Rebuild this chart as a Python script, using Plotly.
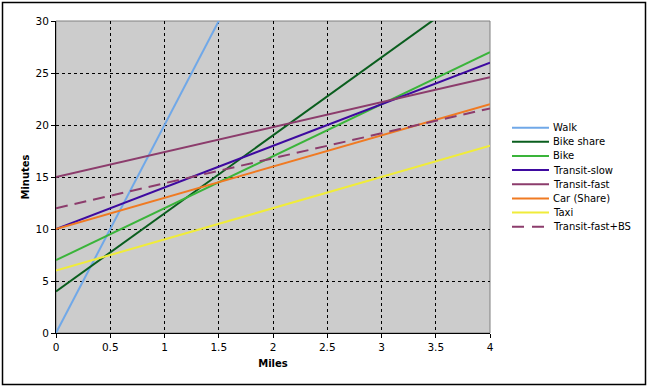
import plotly.graph_objects as go

miles = [0, 1, 2, 3, 4]
walk = [0, 20, 40, 60, 80]
bike_share = [4, 11.5, 19, 26.5, 34]
bike = [7, 12, 17, 22, 27]
transit_slow = [10, 14, 18, 22, 26]
transit_fast = [15, 17.4, 19.8, 22.2, 24.6]
car_share = [10, 13, 16, 19, 22]
taxi = [6, 9, 12, 15, 18]
transit_fast_bs = [12, 14.4, 16.8, 19.2, 21.6]

series = [
    ("Walk", walk, "#70A8E8", "solid"),
    ("Bike share", bike_share, "#0A5E1E", "solid"),
    ("Bike", bike, "#3AB43A", "solid"),
    ("Transit-slow", transit_slow, "#3E0AA0", "solid"),
    ("Transit-fast", transit_fast, "#8C3C6C", "solid"),
    ("Car (Share)", car_share, "#F07A22", "solid"),
    ("Taxi", taxi, "#F0EC3A", "solid"),
    ("Transit-fast+BS", transit_fast_bs, "#8C3C6C", "12px,7px"),
]

x_ticks = [0, 0.5, 1, 1.5, 2, 2.5, 3, 3.5, 4]
x_labels = ["0", "0.5", "1", "1.5", "2", "2.5", "3", "3.5", "4"]
y_ticks = [0, 5, 10, 15, 20, 25, 30]

W, H = 648, 387
ML, MR, MT, MB = 56, 158, 21, 54
PW, PH = W - ML - MR, H - MT - MB


def px(xp):
    return (xp - ML) / PW


def py(yp):
    return (H - MB - yp) / PH


fig = go.Figure()
for name, vals, color, dash in series:
    fig.add_trace(go.Scatter(x=miles, y=vals, name=name, mode="lines",
                             line=dict(color=color, width=2, dash=dash),
                             showlegend=False))

FAM = "DejaVu Sans, Verdana, sans-serif"
font = dict(family=FAM, size=10.5, color="black")

shapes = [
    dict(type="rect", xref="paper", yref="paper", x0=0, x1=1, y0=0, y1=1,
         line=dict(color="#808080", width=1), layer="below"),
    dict(type="rect", xref="paper", yref="paper",
         x0=px(2.5), x1=px(645.5), y0=py(384.5), y1=py(2.5),
         line=dict(color="black", width=1.5)),
]
annotations = []
legend_top = 127.7
legend_step = 14.14
for i, (name, vals, color, dash) in enumerate(series):
    yy = legend_top + i * legend_step
    shapes.append(dict(type="line", xref="paper", yref="paper",
                       x0=px(512), x1=px(549), y0=py(yy), y1=py(yy),
                       line=dict(color=color, width=2,
                                 dash="12px,8px" if dash != "solid" else "solid")))
    annotations.append(dict(xref="paper", yref="paper", x=px(551), y=py(yy),
                            text=name, showarrow=False, xanchor="left",
                            yanchor="middle",
                            font=dict(family=FAM, size=10, color="black")))

fig.update_layout(
    width=W, height=H,
    margin=dict(l=ML, r=MR, t=MT, b=MB),
    paper_bgcolor="white", plot_bgcolor="#CCCCCC",
    font=font,
    showlegend=False,
    xaxis=dict(range=[0, 4], tickvals=x_ticks, ticktext=x_labels,
               showgrid=True, gridcolor="black", griddash="dot", gridwidth=1,
               showline=True, linecolor="black", linewidth=1,
               ticks="outside", ticklen=4, tickcolor="black",
               zeroline=False,
               title=dict(text="<b>Miles</b>", font=dict(size=10), standoff=8)),
    yaxis=dict(range=[0, 30], tickvals=y_ticks,
               showgrid=True, gridcolor="black", griddash="dot", gridwidth=1,
               showline=True, linecolor="black", linewidth=1,
               ticks="outside", ticklen=4, tickcolor="black",
               zeroline=False,
               title=dict(text="<b>Minutes</b>", font=dict(size=10), standoff=4)),
    shapes=shapes,
    annotations=annotations,
)

fig.write_html("out.html", config={"displayModeBar": False},
               post_script="document.body.style.margin='0';document.body.style.overflow='hidden';")
